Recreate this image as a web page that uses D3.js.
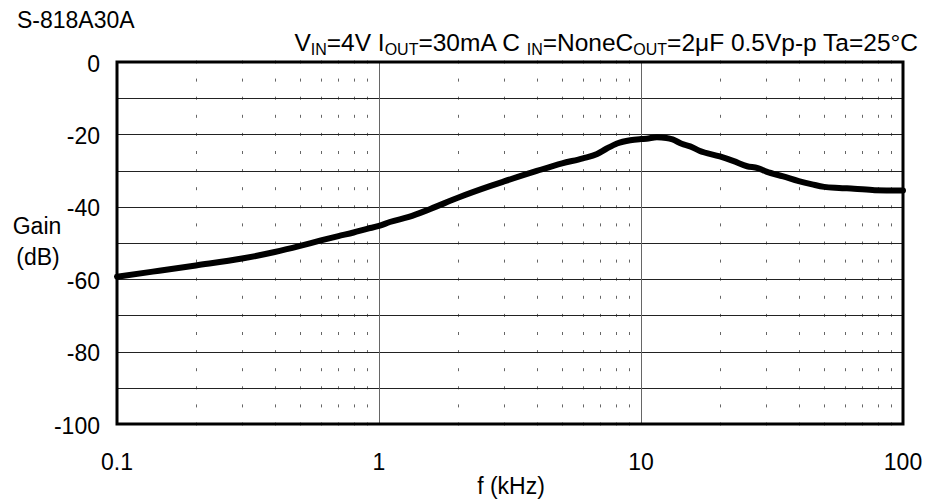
<!DOCTYPE html>
<html><head><meta charset="utf-8">
<script src="https://cdn.jsdelivr.net/npm/d3@7"></script>
<style>body{margin:0;background:#fff}svg{display:block}text{font-family:"Liberation Sans",Arial,sans-serif;fill:#000}</style>
</head><body>
<svg id="c" width="930" height="503"></svg>
<script>
const freq = [0.1,0.137,0.2,0.3,0.4,0.5,0.6,0.7,0.8,0.9,1,1.1,1.3,1.57,2,2.65,3,4,5,6,6.8,7.4,8.1,9.1,10,10.5,11.5,12.5,13.2,14.3,15.4,16.7,20,22.6,25.4,27.9,30.1,34.9,40,45,50,57,65,78,100];
const gain = [-59.3,-57.9,-56.2,-54.3,-52.5,-50.8,-49.3,-48.1,-47.1,-46.1,-45.3,-44.2,-42.8,-40.6,-37.5,-34.3,-33,-30.1,-28,-26.6,-25.4,-23.9,-22.5,-21.6,-21.3,-21.2,-20.8,-21,-21.4,-22.6,-23.3,-24.5,-26.1,-27.4,-28.8,-29.3,-30.3,-31.6,-32.9,-33.8,-34.5,-34.8,-35,-35.4,-35.5];
const xTicks = [0.1,1,10,100];
const xTickLabels = ["0.1","1","10","100"];
const yTicks = [0,-20,-40,-60,-80,-100];
const yGrid = [-10,-20,-30,-40,-50,-60,-70,-80,-90];

const svg = d3.select("#c");
const L=117,R=903,T=62,B=424;
const FS=23;
const x = d3.scaleLog().domain([0.1,100]).range([L,R]);
const y = d3.scaleLinear().domain([-100,0]).range([B,T]);

// minor ticks
const minorF = [];
[0.1,1,10].forEach(d=>{for(let k=2;k<=9;k++) minorF.push(d*k);});
const levels = d3.range(0,-100.1,-5);
const mg = svg.append("g");
minorF.forEach(f=>{
  levels.forEach(l=>{
    mg.append("line").attr("x1",Math.round(x(f))+0.5).attr("x2",Math.round(x(f))+0.5)
      .attr("y1",y(l)-1.5).attr("y2",y(l)+1.5).attr("stroke","#666").attr("stroke-width",1);
  });
});
// grid
svg.append("g").selectAll("line").data(yGrid).join("line")
  .attr("x1",L).attr("x2",R).attr("y1",d=>Math.round(y(d))+0.5).attr("y2",d=>Math.round(y(d))+0.5)
  .attr("stroke","#222").attr("stroke-width",1);
svg.append("g").selectAll("line").data([1,10]).join("line")
  .attr("x1",d=>Math.round(x(d))+0.5).attr("x2",d=>Math.round(x(d))+0.5).attr("y1",T).attr("y2",B)
  .attr("stroke","#666").attr("stroke-width",1);

// curve
const pts = freq.map((f,i)=>[f,gain[i]]);
svg.append("path").datum(pts)
  .attr("d",d3.line().x(d=>x(d[0])).y(d=>y(d[1])).curve(d3.curveMonotoneX))
  .attr("fill","none").attr("stroke","#000").attr("stroke-width",6)
  .attr("stroke-linejoin","round").attr("stroke-linecap","round");

// frame
svg.append("rect").attr("x",L).attr("y",T).attr("width",R-L).attr("height",B-T)
  .attr("fill","none").attr("stroke","#000").attr("stroke-width",3);

// axes labels
svg.append("g").selectAll("text").data(yTicks).join("text")
  .attr("x",100).attr("y",d=>y(d)+9.5).attr("text-anchor","end").attr("font-size",FS).text(d=>d);
svg.append("g").selectAll("text").data(xTicks).join("text")
  .attr("x",d=>x(d)).attr("y",470).attr("text-anchor","middle").attr("font-size",FS).text((d,i)=>xTickLabels[i]);
svg.append("text").attr("x",511).attr("y",494).attr("text-anchor","middle").attr("font-size",FS).text("f (kHz)");
svg.append("text").attr("x",37).attr("y",234).attr("text-anchor","middle").attr("font-size",FS).text("Gain");
svg.append("text").attr("x",38).attr("y",265).attr("text-anchor","middle").attr("font-size",FS).text("(dB)");
svg.append("text").attr("x",17).attr("y",28).attr("font-size",FS).text("S-818A30A");

const t = svg.append("text").attr("x",918).attr("y",51).attr("text-anchor","end").attr("font-size",24.5);
const parts = [["V",0],["IN",1],["=4V I",0],["OUT",1],["=30mA C ",0],["IN",1],["=None",0],["C",0],["OUT",1],["=2μF 0.5Vp-p Ta=25°C",0]];
parts.forEach((p,i)=>{
  const s=t.append("tspan").text(p[0]);
  if(p[1]) s.attr("font-size",16).attr("dy",4);
  else if(i>0 && parts[i-1][1]) s.attr("dy",-4);
});
</script>
</body></html>
